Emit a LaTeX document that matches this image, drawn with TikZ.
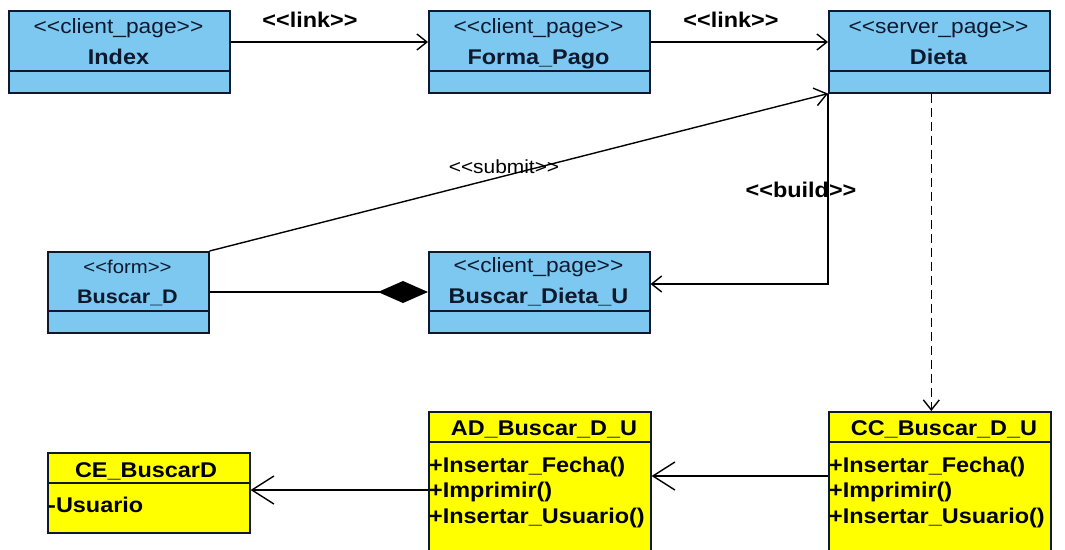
\documentclass[tikz,border=0pt]{standalone}
\usepackage{fontspec}
\setmainfont{Liberation Sans}[FakeStretch=1.1]
\usetikzlibrary{arrows.meta}
\definecolor{pageblue}{RGB}{124,200,240}
\definecolor{clsyellow}{RGB}{255,255,0}
\definecolor{edgecol}{RGB}{15,25,45}
\newcommand\stereo[1]{<{}<#1>{}>}
\begin{document}
\begin{tikzpicture}[x=1pt,y=-1pt,
  bluecls/.style={draw=edgecol, line width=1.6pt, fill=pageblue, inner sep=0pt, anchor=north west},
  yelcls/.style={draw=edgecol, line width=1.6pt, fill=clsyellow, inner sep=0pt, anchor=north west},
  divider/.style={draw=edgecol, line width=1.6pt},
  sttext/.style={font=\fontsize{20.7}{23}\selectfont, text=edgecol, inner sep=0pt, anchor=base},
  nmtext/.style={font=\fontsize{21.3}{23}\selectfont\bfseries, text=edgecol, inner sep=0pt, anchor=base},
  ytext/.style={font=\fontsize{21.3}{23}\selectfont\bfseries, text=black, inner sep=0pt, anchor=base},
  attr/.style={font=\fontsize{21.3}{23}\selectfont\bfseries, text=black, inner sep=0pt, anchor=base west},
  lbl/.style={font=\fontsize{21.3}{23}\selectfont\bfseries, inner sep=0pt, anchor=base},
  conn/.style={draw=black, line width=1.4pt},
  smallarr/.style={-{Straight Barb[length=10pt,width=16pt,line width=1.4pt]}},
  bigarr/.style={-{Straight Barb[length=22pt,width=28pt,line width=1.4pt]}},
  comp/.style={-{Diamond[length=50pt,width=22pt,fill=black]}}
]
\useasboundingbox[fill=white] (0,0) rectangle (1065,549);

% ---- blue classes ----
\node[bluecls, minimum width=221pt, minimum height=82pt] (index) at (8,10) {};
\draw[divider] ([yshift=-61pt]index.north west) -- ([yshift=-61pt]index.north east);
\node[sttext] (index-s) at (118.5,33) {\stereo{client\_page}};
\node[nmtext] (index-n) at (118.5,64) {Index};

\node[bluecls, minimum width=221pt, minimum height=82pt] (forma) at (428,10) {};
\draw[divider] ([yshift=-61pt]forma.north west) -- ([yshift=-61pt]forma.north east);
\node[sttext] (forma-s) at (538.5,33) {\stereo{client\_page}};
\node[nmtext] (forma-n) at (538.5,64) {Forma\_Pago};

\node[bluecls, minimum width=221pt, minimum height=82pt] (dieta) at (828,10) {};
\draw[divider] ([yshift=-61pt]dieta.north west) -- ([yshift=-61pt]dieta.north east);
\node[sttext] (dieta-s) at (938.5,33) {\stereo{server\_page}};
\node[nmtext] (dieta-n) at (938.5,64) {Dieta};

\node[bluecls, minimum width=161pt, minimum height=81pt] (buscard) at (47,251) {};
\draw[divider] ([yshift=-60pt]buscard.north west) -- ([yshift=-60pt]buscard.north east);
\node[sttext, font=\fontsize{18.5}{21}\selectfont] (buscard-s) at (127.5,273) {\stereo{form}};
\node[nmtext, font=\fontsize{19.6}{21}\selectfont\bfseries] (buscard-n) at (127.5,303) {Buscar\_D};

\node[bluecls, minimum width=221pt, minimum height=81pt] (bdu) at (428,251) {};
\draw[divider] ([yshift=-60pt]bdu.north west) -- ([yshift=-60pt]bdu.north east);
\node[sttext] (bdu-s) at (538.5,272) {\stereo{client\_page}};
\node[nmtext] (bdu-n) at (538.5,303) {Buscar\_Dieta\_U};

% ---- yellow classes ----
\node[yelcls, minimum width=202pt, minimum height=80pt] (ce) at (47,452) {};
\draw[divider] ([yshift=-31pt]ce.north west) -- ([yshift=-31pt]ce.north east);
\node[ytext] (ce-n) at (146,477) {CE\_BuscarD};
\node[attr] (ce-a1) at (48,512) {-Usuario};

\node[yelcls, minimum width=222pt, minimum height=150pt] (ad) at (428,411) {};
\draw[divider] ([yshift=-31pt]ad.north west) -- ([yshift=-31pt]ad.north east);
\node[ytext] (ad-n) at (544,435) {AD\_Buscar\_D\_U};
\node[attr] (ad-a1) at (429,472) {+Insertar\_Fecha()};
\node[attr] (ad-a2) at (429,497) {+Imprimir()};
\node[attr] (ad-a3) at (429,523) {+Insertar\_Usuario()};

\node[yelcls, minimum width=222pt, minimum height=150pt] (cc) at (828,411) {};
\draw[divider] ([yshift=-31pt]cc.north west) -- ([yshift=-31pt]cc.north east);
\node[ytext] (cc-n) at (944,435) {CC\_Buscar\_D\_U};
\node[attr] (cc-a1) at (829,472) {+Insertar\_Fecha()};
\node[attr] (cc-a2) at (829,497) {+Imprimir()};
\node[attr] (cc-a3) at (829,523) {+Insertar\_Usuario()};

% ---- connectors ----
\draw[conn, smallarr] (index.east |- 0,42) -- (forma.west |- 0,42);
\node[lbl] (link1) at (310,27) {\stereo{link}};
\draw[conn, smallarr] (forma.east |- 0,42) -- (dieta.west |- 0,42);
\node[lbl] (link2) at (731,27) {\stereo{link}};

\draw[conn, -{Straight Barb[length=12pt,width=18pt,line width=1.4pt]}] (buscard.north east) -- (dieta.south west);
\node[sttext, font=\fontsize{19}{21}\selectfont, text=black] (submit) at (504,173) {\stereo{submit}};

\draw[conn, smallarr] (dieta.south west) -- (dieta.south west |- 0,284) -- (bdu.east |- 0,284);
\node[lbl] (build) at (801,197) {\stereo{build}};

\draw[conn, comp] (buscard.east |- 0,292) -- (bdu.west |- 0,292);

\draw[conn, dashed, dash pattern=on 9pt off 5pt, smallarr] ([xshift=-8pt]dieta.south) -- ([xshift=-8pt]dieta.south |- cc.north);

\draw[conn, bigarr] (cc.west |- 0,476) -- (ad.east |- 0,476);
\draw[conn, bigarr] (ad.west |- 0,490) -- (ce.east |- 0,490);
\end{tikzpicture}
\end{document}
